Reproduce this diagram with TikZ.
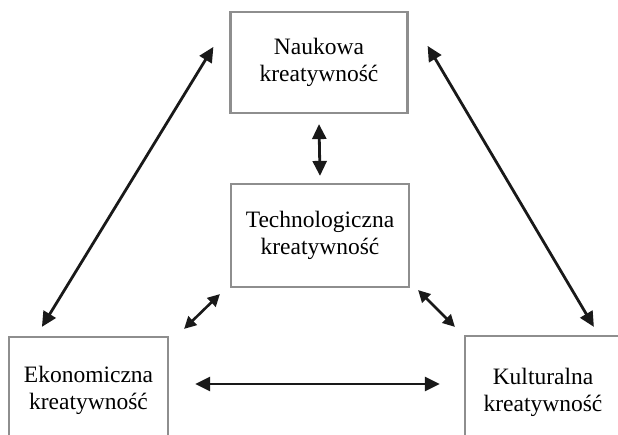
\documentclass[tikz,border=0pt]{standalone}
\usepackage{fontspec}
\setmainfont{Liberation Serif}
\usetikzlibrary{arrows.meta}
\definecolor{boxgray}{HTML}{8E8E8E}
\tikzstyle{krea-box} = [draw=boxgray, line width=2.2pt, rectangle,
    inner sep=0pt, align=center,
    font=\fontsize{23.5}{27}\selectfont]
\tikzstyle{big-arr} = [line width=2.8pt, draw=black!90,
    {Triangle[length=15pt,width=14pt]}-{Triangle[length=15pt,width=14pt]}]
\tikzstyle{small-arr} = [line width=2.6pt, draw=black!90,
    {Triangle[length=12pt,width=12pt]}-{Triangle[length=12pt,width=12pt]}]

\begin{document}
\begin{tikzpicture}[x=1pt,y=-1pt]
\useasboundingbox (0,0) rectangle (618,435);
\node [krea-box, minimum width=177pt, minimum height=101pt] (nauk) at (319,62.5)
    {Naukowa\\kreatywność};
\node [krea-box, minimum width=178pt, minimum height=103pt] (tech) at (320,235.5)
    {Technologiczna\\kreatywność};
\node [krea-box, minimum width=159pt, minimum height=106pt] (ekon) at (88.5,390)
    {Ekonomiczna\\kreatywność};
\node [krea-box, minimum width=156pt, minimum height=112pt] (kult) at (543,392)
    {Kulturalna\\kreatywność};

\draw [big-arr] ([yshift=-10pt]nauk.south) -- ([yshift=7pt]tech.north);
\draw [big-arr] ([shift={(-16pt,-36pt)}]nauk.north west) -- ([shift={(34pt,9pt)}]ekon.north west);
\draw [big-arr] ([shift={(19pt,-35pt)}]nauk.north east) -- ([shift={(130pt,8pt)}]kult.north west);
\draw [big-arr] ([shift={(26pt,6pt)}]ekon.east) -- ([shift={(-24pt,8pt)}]kult.west);
\draw [small-arr] ([shift={(-10pt,-6pt)}]tech.south west) -- ([shift={(15pt,7pt)}]ekon.north east);
\draw [small-arr] ([shift={(8pt,-2pt)}]tech.south east) -- ([shift={(-9pt,8pt)}]kult.north west);
\end{tikzpicture}
\end{document}
